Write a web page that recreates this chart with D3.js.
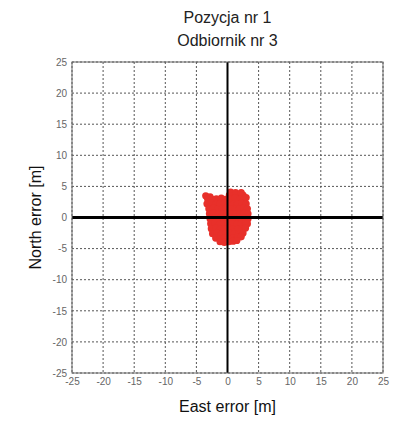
<!DOCTYPE html>
<html>
<head>
<meta charset="utf-8">
<script src="https://cdn.jsdelivr.net/npm/d3@7"></script>
<style>
body { margin: 0; background: #fff; }
svg text { font-family: "Liberation Sans", Arial, sans-serif; }
</style>
</head>
<body>
<div id="vis_container"></div>
<script>
var titles = ["Pozycja nr 1", "Odbiornik nr 3"];
var ticks = [-25, -20, -15, -10, -5, 0, 5, 10, 15, 20, 25];

// east / north errors [m]
var east = [
    -3.5, -2.8, 0.3, 1.0, 1.8, 2.5,
    0.5, 1.3, 2.2,
    -3.2, -2.5, -1.8, -1.0, -0.3, 0.5, 1.2, 2.0, 2.7, 3.0,
    -3.3, -2.6, -1.9, -1.2, -0.5, 0.2, 0.9, 1.6, 2.3, 3.0,
    -3.0, -2.3, -1.6, -0.9, -0.2, 0.5, 1.2, 1.9, 2.6, 3.2,
    -2.9, -2.2, -1.5, -0.8, -0.1, 0.6, 1.3, 2.0, 2.7, 3.3,
    -2.8, -2.1, -1.4, -0.7, 0.0, 0.7, 1.4, 2.1, 2.8, 3.3,
    -2.7, -2.0, -1.3, -0.6, 0.1, 0.8, 1.5, 2.2, 2.9, 3.2,
    -2.6, -1.9, -1.2, -0.5, 0.2, 0.9, 1.6, 2.3, 2.9,
    -2.4, -1.7, -1.0, -0.3, 0.4, 1.1, 1.8, 2.5,
    -1.9, -1.2, -0.5, 0.2, 0.9, 1.6, 2.2,
    -1.2, -0.5, 0.2, 0.9, 1.5
];
var north = [
    3.5, 3.3, 3.6, 3.7, 3.5, 3.6,
    4.1, 4.0, 4.0,
    3.0, 2.9, 3.0, 3.1, 2.9, 3.0, 3.1, 2.9, 3.0, 3.2,
    2.2, 2.3, 2.1, 2.2, 2.3, 2.2, 2.1, 2.2, 2.3, 2.2,
    1.4, 1.5, 1.3, 1.4, 1.5, 1.4, 1.3, 1.4, 1.5, 1.4,
    0.6, 0.7, 0.5, 0.6, 0.7, 0.6, 0.5, 0.6, 0.7, 0.6,
    -0.2, -0.1, -0.3, -0.2, -0.1, -0.2, -0.3, -0.2, -0.1, -0.2,
    -1.0, -0.9, -1.1, -1.0, -0.9, -1.0, -1.1, -1.0, -0.9, -1.0,
    -1.8, -1.7, -1.9, -1.8, -1.7, -1.8, -1.9, -1.8, -1.7,
    -2.6, -2.5, -2.7, -2.6, -2.5, -2.6, -2.7, -2.5,
    -3.3, -3.4, -3.3, -3.4, -3.3, -3.2, -3.1,
    -3.9, -4.0, -3.9, -3.8, -3.7
];

var width = 394, height = 421;
var plotL = 72, plotR = 383, plotT = 62, plotB = 373;

var x = d3.scaleLinear().domain([-25, 25]).range([plotL, plotR]);
var y = d3.scaleLinear().domain([-25, 25]).range([plotB, plotT]);

var svg = d3.select("#vis_container").append("svg")
    .attr("width", width)
    .attr("height", height);

// grid
svg.append("g").selectAll("line").data(ticks).enter().append("line")
    .attr("x1", function(d) { return x(d); })
    .attr("x2", function(d) { return x(d); })
    .attr("y1", plotT).attr("y2", plotB)
    .style("stroke", "#555").style("stroke-width", 1)
    .style("stroke-dasharray", "2,2");
svg.append("g").selectAll("line").data(ticks).enter().append("line")
    .attr("y1", function(d) { return y(d); })
    .attr("y2", function(d) { return y(d); })
    .attr("x1", plotL).attr("x2", plotR)
    .style("stroke", "#555").style("stroke-width", 1)
    .style("stroke-dasharray", "2,2");

// points
var pts = east.map(function(d, i) { return {e: d, n: north[i]}; });
svg.append("g").selectAll("circle").data(pts).enter().append("circle")
    .attr("cx", function(d) { return x(d.e); })
    .attr("cy", function(d) { return y(d.n); })
    .attr("r", 3.6)
    .style("fill", "#e8302a");

// zero lines
svg.append("line")
    .attr("x1", plotL).attr("x2", plotR)
    .attr("y1", y(0)).attr("y2", y(0))
    .style("stroke", "#000").style("stroke-width", 3);
svg.append("line")
    .attr("x1", x(0)).attr("x2", x(0))
    .attr("y1", plotT).attr("y2", plotB)
    .style("stroke", "#000").style("stroke-width", 2);

// box
svg.append("rect")
    .attr("x", plotL).attr("y", plotT)
    .attr("width", plotR - plotL).attr("height", plotB - plotT)
    .style("fill", "none").style("stroke", "#666").style("stroke-width", 1);

// axes
svg.append("g")
    .attr("transform", "translate(0," + plotB + ")")
    .call(d3.axisBottom(x).tickValues(ticks).tickSize(0).tickPadding(5)
        .tickFormat(function(d) { return String(d); }));
svg.append("g")
    .attr("transform", "translate(" + plotL + ",0)")
    .call(d3.axisLeft(y).tickValues(ticks).tickSize(0).tickPadding(5)
        .tickFormat(function(d) { return String(d); }));
svg.selectAll(".domain").remove();
svg.selectAll(".tick text")
    .style("font-family", "Liberation Sans, Arial, sans-serif")
    .style("font-size", "10px")
    .style("fill", "#666");

// titles
svg.selectAll(".title").data(titles).enter().append("text")
    .attr("class", "title")
    .attr("x", x(0))
    .attr("y", function(d, i) { return 23 + i * 23; })
    .style("text-anchor", "middle")
    .style("font-size", "16px")
    .style("fill", "#222")
    .text(function(d) { return d; });

svg.append("text")
    .attr("x", x(0)).attr("y", 412)
    .style("text-anchor", "middle")
    .style("font-size", "16px")
    .style("fill", "#111")
    .text("East error [m]");

svg.append("text")
    .attr("transform", "translate(41," + y(0) + ") rotate(-90)")
    .style("text-anchor", "middle")
    .style("font-size", "16px")
    .style("fill", "#111")
    .text("North error [m]");
</script>
</body>
</html>
